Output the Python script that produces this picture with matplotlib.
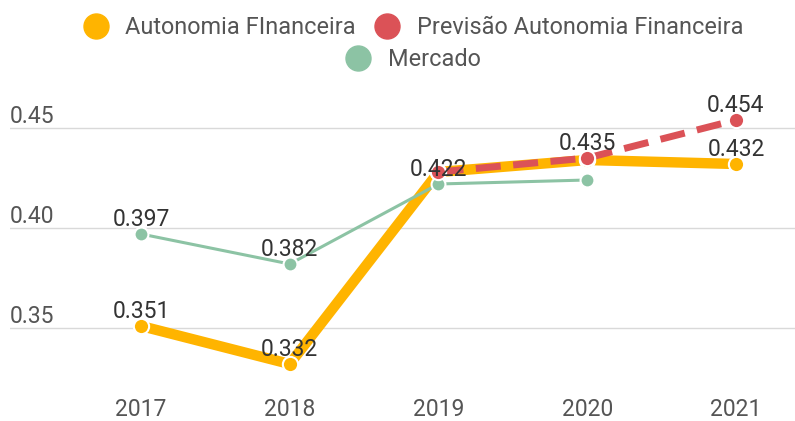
import numpy as np
import matplotlib.pyplot as plt
from matplotlib.lines import Line2D

plt.rcParams['font.family'] = ['Roboto', 'DejaVu Sans']

years = ["2017", "2018", "2019", "2020", "2021"]
autonomia = [0.351, 0.332, 0.428, 0.434, 0.432]
previsao_years = [2, 3, 4]
previsao = [0.428, 0.435, 0.454]
mercado = [0.397, 0.382, 0.422, 0.424]

yticks = [0.35, 0.40, 0.45]

c_yellow = "#FFB400"
c_red = "#DB5257"
c_green = "#8CC3A4"

fig = plt.figure(figsize=(7.95, 4.21), dpi=100)
ax = fig.add_axes([10 / 795, 1 - 388 / 421, 1 - 10 / 795, 300 / 421])

x = np.arange(len(years))
ax.plot(x, autonomia, color=c_yellow, lw=7.5, marker='o', ms=11,
        mfc=c_yellow, mec='white', mew=1.5, solid_capstyle='butt', zorder=3)
ax.plot(x[:len(mercado)], mercado, color=c_green, lw=2.2, marker='o', ms=10,
        mfc=c_green, mec='white', mew=1.5, zorder=4)
ax.plot(previsao_years, previsao, color=c_red, lw=5, ls=(0, (3.6, 1.8)),
        marker='o', ms=11, mfc=c_red, mec='white', mew=1.5, zorder=5)

labels = [
    (0, mercado[0]), (1, mercado[1]), (2, mercado[2]),
    (0, autonomia[0]), (1, autonomia[1]), (4, autonomia[4]),
    (3, previsao[1]), (4, previsao[2]),
]
for xi, v in labels:
    ax.annotate(f"{v:.3f}", (xi, v), xytext=(0, 6), textcoords='offset points',
                ha='center', va='baseline', fontsize=16.5, color='#333333', zorder=6)

ax.set_xlim(-0.881, 4.397)
ax.set_ylim(0.32, 0.47)
for t in yticks:
    ax.axhline(t, color='#d9d9d9', lw=1, zorder=1)
    ax.text(0.0, t, f"{t:.2f}", transform=ax.get_yaxis_transform(),
            ha='left', va='bottom', fontsize=16.5, color='#555555')

ax.set_xticks(x)
ax.set_xticklabels(years, fontsize=16.5, color='#555555')
ax.tick_params(axis='x', length=0, pad=7)
ax.set_yticks([])
for s in ax.spines.values():
    s.set_visible(False)

h1 = [Line2D([], [], marker='o', ls='none', color=c_yellow, ms=18),
      Line2D([], [], marker='o', ls='none', color=c_red, ms=18)]
fig.legend(h1, ["Autonomia FInanceira", "Previsão Autonomia Financeira"],
           loc='center', bbox_to_anchor=(410 / 795, 1 - 28 / 421), ncol=2,
           frameon=False, fontsize=16.9, handletextpad=0.45, columnspacing=0.55,
           handlelength=1.6, labelcolor='#555555', borderpad=0)
h2 = [Line2D([], [], marker='o', ls='none', color=c_green, ms=18)]
fig.legend(h2, ["Mercado"], loc='center', bbox_to_anchor=(410 / 795, 1 - 60 / 421),
           frameon=False, fontsize=16.9, handletextpad=0.45, handlelength=1.6,
           labelcolor='#555555', borderpad=0)

fig.savefig("out.png", dpi=100)
